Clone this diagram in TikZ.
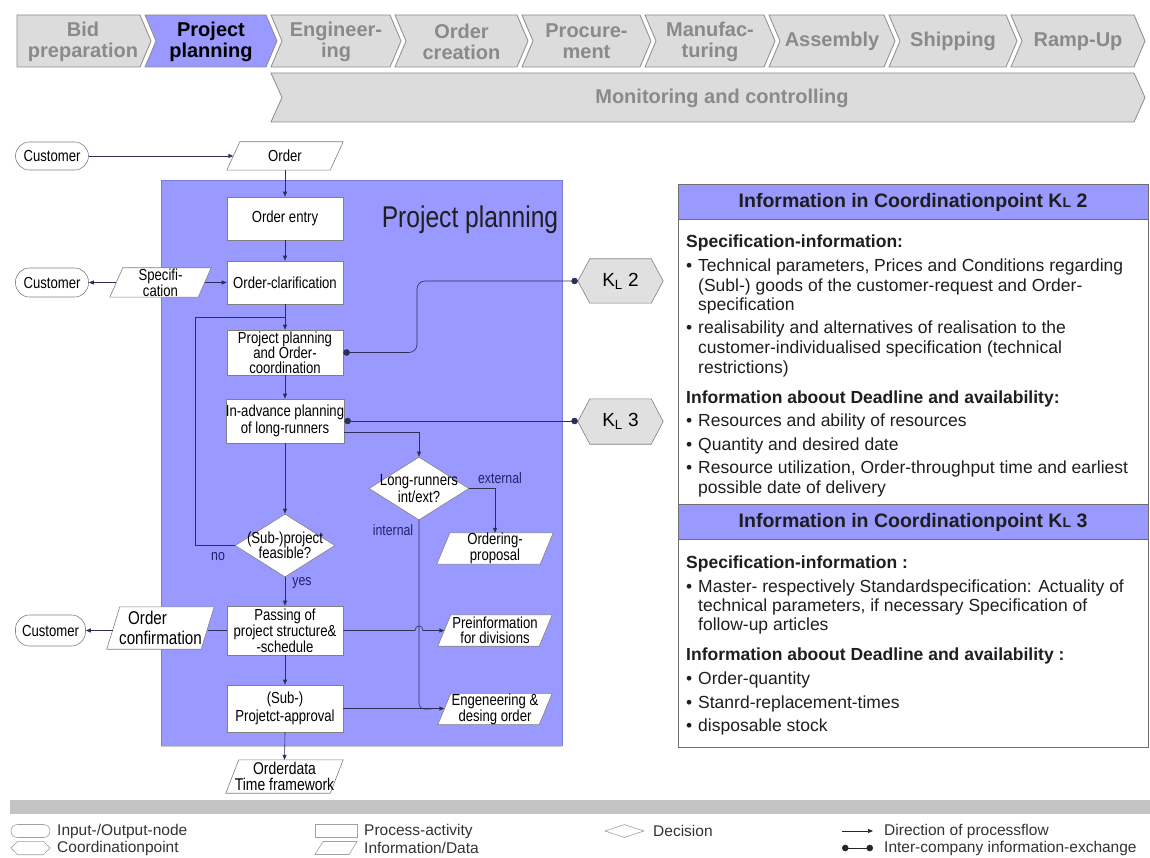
\documentclass[tikz,border=0pt]{standalone}
\usepackage{fontspec}
\setmainfont{Liberation Sans}
\newfontfamily\nf[FakeStretch=0.82]{Liberation Sans}
\usetikzlibrary{arrows.meta,shapes.geometric}
\pgfdeclarelayer{bg}
\pgfsetlayers{bg,main}
\definecolor{pblue}{HTML}{9999FF}
\definecolor{chgray}{HTML}{DCDCDC}
\definecolor{chline}{HTML}{8C8C8C}
\definecolor{chtext}{HTML}{8A8A8A}
\definecolor{boxline}{HTML}{808080}
\definecolor{fline}{HTML}{2E2E58}
\definecolor{labcol}{HTML}{22226A}
\definecolor{hexgray}{HTML}{E0E0E0}
\definecolor{ptcol}{HTML}{1E1E1E}
\definecolor{pfr}{HTML}{6E6E6E}
\definecolor{lgbar}{HTML}{C4C4C4}
\definecolor{lgline}{HTML}{A0A0A0}
\definecolor{lgcol}{HTML}{333333}
\definecolor{blueedge}{HTML}{7B7BD9}
\tikzset{
 chevb/.style={draw=chline, line width=0.8pt},
 chevt/.style={font=\bfseries\fontsize{20}{21}\selectfont, align=center, inner sep=0pt},
 proc/.style={draw=boxline, fill=white, line width=0.6pt, minimum width=116pt, inner xsep=0pt, inner ysep=1pt, align=center, font=\nf\fontsize{16}{13.5}\selectfont},
 io/.style={draw=boxline, fill=white, line width=0.6pt, rounded corners=14pt, minimum width=73pt, minimum height=28pt, inner sep=0pt, font=\nf\fontsize{16}{16}\selectfont},
 ptxt/.style={inner sep=0pt, align=center, font=\nf\fontsize{16}{13.5}\selectfont},
 parab/.style={draw=boxline, fill=white, line width=0.6pt},
 hexb/.style={draw=boxline, fill=hexgray, line width=0.6pt},
 htxt/.style={inner sep=0pt, font=\fontsize{19}{19}\selectfont},
 dia/.style={diamond, draw=boxline, fill=white, line width=0.6pt, inner sep=0pt},
 dtxt/.style={inner sep=0pt, align=center, font=\nf\fontsize{16}{15}\selectfont},
 lab/.style={inner sep=0pt, text=labcol, font=\nf\fontsize{15}{15}\selectfont},
 flow/.style={draw=fline, line width=0.6pt, -{Triangle[length=5pt,width=4pt]}},
 conn/.style={draw=fline, line width=0.6pt},
 info/.style={draw=fline, line width=0.6pt, {Circle[length=6.5pt]}-{Circle[length=6.5pt]}},
 ptx/.style={anchor=base west, inner sep=0pt, text=ptcol, font=\fontsize{17.5}{19}\selectfont},
 pbold/.style={anchor=base west, inner sep=0pt, text=ptcol, font=\bfseries\fontsize{17.5}{19}\selectfont},
 phead/.style={inner sep=0pt, text=ptcol, font=\bfseries\fontsize{19.5}{20}\selectfont},
 pframe/.style={draw=pfr, line width=0.8pt},
 lgt/.style={anchor=west, inner sep=0pt, text=lgcol, font=\fontsize{15.5}{16}\selectfont},
 lgs/.style={draw=lgline, line width=0.6pt},
}
% parallelogram: name, x, y, total width, height, options, text (slant 13)
\newcommand\mkpara[7]{%
 \node[ptxt,#6,minimum width={#4-13},minimum height=#5] (#1) at (#2,#3) {#7};
 \begin{pgfonlayer}{bg}
 \draw[parab] ([xshift=-6.5pt]#1.south west) -- ([xshift=-6.5pt]#1.south east) -- ([xshift=6.5pt]#1.north east) -- ([xshift=6.5pt]#1.north west) -- cycle;
 \end{pgfonlayer}}
% hexagon: [style] name, x, y, width, height, text, point depth
\newcommand\mkhex[7][hexb]{%
 \node[htxt,minimum width=#4,minimum height=#5] (#2) at (#3) {#6};
 \begin{pgfonlayer}{bg}
 \draw[#1] (#2.west) -- ([xshift=#7pt]#2.north west) -- ([xshift=-#7pt]#2.north east) -- (#2.east) -- ([xshift=-#7pt]#2.south east) -- ([xshift=#7pt]#2.south west) -- cycle;
 \end{pgfonlayer}}
% chevron: name, L, R, fill, text colour, text
\newcommand\chev[6]{%
 \draw[chevb, fill=#4] (#2,15) -- (#3,15) -- ({#3+11},41) -- (#3,67) -- (#2,67) -- ({#2+11},41) -- cycle;
 \node[chevt, text=#5] (#1) at ({(#2+#3)/2+5.5},41.5) {#6};}
\begin{document}
\begin{tikzpicture}[x=1pt,y=-1pt]
\useasboundingbox (0,0) rectangle (1150,858);
\begin{pgfonlayer}{bg}
 \fill[white] (0,0) rectangle (1150,858);
 \fill[pblue] (161,180) rectangle (562,746);
 \draw[blueedge, line width=0.8pt] (161,746) -- (161,180) -- (562,180) -- (562,746);
 \draw[gray!45, line width=1.6pt] (161,746.5) -- (562,746.5);
\end{pgfonlayer}

% ---------- phase chevrons ----------
\draw[chevb, fill=chgray] (17,15) -- (140,15) -- (151,41) -- (140,67) -- (17,67) -- cycle;
\node[chevt, text=chtext] (c1) at (83,41.5) {Bid\\preparation};
\chev{c2}{145}{266}{pblue}{black}{Project\\planning}
\chev{c3}{271}{390}{chgray}{chtext}{Engineer-\\ing}
\chev{c4}{395}{517}{chgray}{chtext}{Order\\creation}
\chev{c5}{522}{640}{chgray}{chtext}{Procure-\\ment}
\chev{c6}{645}{764}{chgray}{chtext}{Manufac-\\turing}
\chev{c7}{769}{884}{chgray}{chtext}{Assembly}
\chev{c8}{889}{1006}{chgray}{chtext}{Shipping}
\chev{c9}{1011}{1134}{chgray}{chtext}{Ramp-Up}
\draw[chevb, fill=chgray] (271,73) -- (1134,73) -- (1145,97.5) -- (1134,122) -- (271,122) -- (282,97.5) -- cycle;
\node[chevt, text=chtext] (mon) at (722,98.5) {Monitoring and controlling};

% ---------- flow chart ----------
\node[inner sep=0pt, font=\nf\fontsize{30}{30}\selectfont, text=black!88] (ppl) at (470,220) {Project planning};

\node[io] (cust1) at (52,156) {Customer};
\mkpara{order}{285}{156}{116}{28}{}{Order}
\node[proc, minimum height=43pt] (entry) at (285,218.5) {Order entry};
\node[proc, minimum height=43pt] (clar) at (285,282.5) {Order-clarification};
\node[io, minimum height=29pt] (cust2) at (52,282.5) {Customer};
\mkpara{spec}{160.5}{282.5}{101}{29}{font=\nf\fontsize{16}{14}\selectfont}{Specifi-\\cation}
\node[proc, minimum height=45pt, font=\nf\fontsize{16}{14.5}\selectfont] (pp) at (285,352.5) {Project planning\\and Order-\\coordination};
\node[proc, minimum height=44pt, font=\nf\fontsize{16}{17}\selectfont] (adv) at (285,421) {In-advance planning\\of long-runners};
\node[dia, minimum width=100pt, minimum height=63pt] (sub) at (285,545.5) {};
\node[dtxt] (subt) at (285,545.5) {(Sub-)project\\feasible?};
\node[dia, minimum width=100pt, minimum height=63pt] (lr) at (419,488.5) {};
\node[dtxt, font=\nf\fontsize{16}{17}\selectfont] (lrt) at (419,489) {Long-runners\\int/ext?};
\mkpara{ordp}{495}{548.5}{116}{29}{font=\nf\fontsize{16}{13}\selectfont}{Ordering-\\proposal}
\node[proc, minimum height=49pt, font=\nf\fontsize{16}{14.5}\selectfont] (pass) at (285,630.5) {Passing of\\project structure\&\\-schedule};
\node[io, minimum height=31pt, minimum width=70pt] (cust3) at (50.5,630.5) {Customer};
\mkpara{oc}{160.5}{628}{107}{42}{align=left, font=\nf\fontsize{18.5}{20}\selectfont}{\hspace*{9pt}Order\\confirmation}
\mkpara{pre}{495}{630.5}{114}{31}{font=\nf\fontsize{16}{14.5}\selectfont}{Preinformation\\for divisions}
\node[proc, minimum height=47pt, font=\nf\fontsize{16}{18}\selectfont] (appr) at (285,708.5) {(Sub-)\\Projetct-approval};
\mkpara{eng}{495}{709}{114}{30}{font=\nf\fontsize{16}{14.5}\selectfont}{Engeneering \&\\desing order}
\mkpara{od}{284.5}{776.5}{117}{33}{font=\nf\fontsize{17}{16}\selectfont}{Orderdata\\Time framework}
\mkhex{kl2}{620.5,281}{85}{44}{K\textsubscript{L} 2}{12}
\mkhex{kl3}{620.5,421.5}{85}{45}{K\textsubscript{L} 3}{12}

\node[lab] (lno) at (218,557) {no};
\node[lab] (lyes) at (302,583) {yes};
\node[lab] (lint) at (393,530) {internal};
\node[lab] (lext) at (500,478) {external};

% connectors
\coordinate (loopc) at (195,317);
\coordinate (kbend) at (417,300);
\draw[flow] (cust1.east) -- (order.west);
\draw[flow] (order.south) -- (entry.north);
\draw[flow] (entry.south) -- (clar.north);
\draw[flow] (clar.south) -- (pp.north);
\draw[flow] (spec.east) -- (clar.west);
\draw[flow] (spec.west) -- (cust2.east);
\draw[flow] (pp.south) -- (adv.north);
\draw[flow] (adv.south) -- (sub.north);
\draw[flow] (sub.south) -- (pass.north);
\draw[flow] (pass.south) -- (appr.north);
\draw[flow] (appr.south) -- (od.north);
\draw[conn] (sub.west) -| (loopc) -- (loopc -| clar.south);
\draw[info, rounded corners=8pt] (pp.east) -| (kbend |- kl2.west) -- (kl2.west);
\draw[info] (adv.east) -- (adv.east -| kl3.west);
\draw[flow] ([yshift=-11pt]adv.east) -| (lr.north);
\draw[flow] (lr.east) -| (ordp.north);
\draw[conn, rounded corners=5pt] (lr.south) |- ([xshift=12pt]lr.south |- eng.west);
\draw[flow] (appr.east) -- (appr.east -| eng.west);
\draw[flow] (pass.east) -- ([xshift=-4pt]lr.south |- pass.east) .. controls ([xshift=-4pt,yshift=6pt]lr.south |- pass.east) and ([xshift=4pt,yshift=6pt]lr.south |- pass.east) .. ([xshift=4pt]lr.south |- pass.east) -- (pass.east -| pre.west);
\draw[conn] (pass.west) -- (pass.west -| oc.east);
\draw[flow] (oc.west |- cust3.east) -- (cust3.east);

% ---------- information panel ----------
\draw[pframe, fill=white] (678,184) rectangle (1148,747);
\draw[pframe, fill=pblue] (678,184) rectangle (1148,219);
\draw[pframe, fill=pblue] (678,504) rectangle (1148,539);
\node[phead] (h1) at (913,202) {Information in Coordinationpoint K{\fontsize{14}{14}\selectfont L} 2};
\node[phead] (h2) at (913,522) {Information in Coordinationpoint K{\fontsize{14}{14}\selectfont L} 3};
\node[pbold] (t1) at (686,248) {Specification-information:};
\node[ptx] (t2) at (686,272) {\makebox[12pt][l]{•}Technical parameters, Prices and Conditions regarding};
\node[ptx] (t3) at (698,291) {(Subl-) goods of the customer-request and Order-};
\node[ptx] (t4) at (698,310) {specification};
\node[ptx] (t5) at (686,334) {\makebox[12pt][l]{•}realisability and alternatives of realisation to the};
\node[ptx] (t6) at (698,353) {customer-individualised specification (technical};
\node[ptx] (t7) at (698,373) {restrictions)};
\node[pbold] (t8) at (686,403) {Information aboout Deadline and availability:};
\node[ptx] (t9) at (686,426) {\makebox[12pt][l]{•}Resources and ability of resources};
\node[ptx] (t10) at (686,450) {\makebox[12pt][l]{•}Quantity and desired date};
\node[ptx] (t11) at (686,473) {\makebox[12pt][l]{•}Resource utilization, Order-throughput time and earliest};
\node[ptx] (t12) at (698,493) {possible date of delivery};
\node[pbold] (t13) at (686,568) {Specification-information :};
\node[ptx] (t14) at (686,592) {\makebox[12pt][l]{•}Master- respectively Standardspecification: Actuality of};
\node[ptx] (t15) at (698,611) {technical parameters, if necessary Specification of};
\node[ptx] (t16) at (698,630) {follow-up articles};
\node[pbold] (t17) at (686,660) {Information aboout Deadline and availability :};
\node[ptx] (t18) at (686,684) {\makebox[12pt][l]{•}Order-quantity};
\node[ptx] (t19) at (686,708) {\makebox[12pt][l]{•}Stanrd-replacement-times};
\node[ptx] (t20) at (686,731) {\makebox[12pt][l]{•}disposable stock};

% ---------- legend ----------
\fill[lgbar] (10,800) rectangle (1150,814);
\node[lgs, rounded corners=6.5pt, minimum width=39pt, minimum height=13pt, inner sep=0pt] (lg1) at (30.5,831) {};
\node[lgt] (lt1) at (57,831) {Input-/Output-node};
\mkhex[lgs]{lg2}{30.5,848}{39}{13}{}{7}
\node[lgt] (lt2) at (57,848) {Coordinationpoint};
\node[lgs, minimum width=42pt, minimum height=13pt, inner sep=0pt] (lg3) at (336,831) {};
\node[lgt] (lt3) at (364,831) {Process-activity};
\draw[lgs] (315,854.5) -- (349,854.5) -- (357,841.5) -- (323,841.5) -- cycle;
\node[lgt] (lt4) at (364,848) {Information/Data};
\node[lgs, diamond, minimum width=39pt, minimum height=13pt, inner sep=0pt] (lg5) at (624.5,831) {};
\node[lgt] (lt5) at (653,831) {Decision};
\coordinate (la1) at (842,831);
\coordinate (la2) at (873,831);
\draw[flow, draw=black!85] (la1) -- (la2);
\node[lgt] (lt6) at (884,831) {Direction of processflow};
\coordinate (lb1) at (842,848);
\coordinate (lb2) at (873,848);
\draw[info, draw=black!85] (lb1) -- (lb2);
\node[lgt] (lt7) at (884,848) {Inter-company information-exchange};
\end{tikzpicture}
\end{document}
